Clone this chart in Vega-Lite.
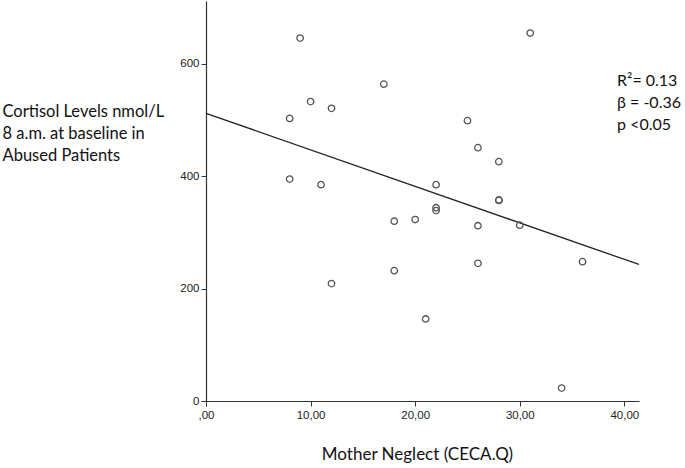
{
  "$schema": "https://vega.github.io/schema/vega-lite/v6.json",
  "autosize": "none",
  "width": 433,
  "height": 400,
  "padding": {"left": 206, "top": 1, "right": 46, "bottom": 67},
  "background": "white",
  "config": {"view": {"stroke": null}},
  "datasets": {
    "points": [
      {"neglect": 9, "cortisol": 646},
      {"neglect": 17, "cortisol": 564},
      {"neglect": 10, "cortisol": 533},
      {"neglect": 12, "cortisol": 521},
      {"neglect": 8, "cortisol": 503},
      {"neglect": 8, "cortisol": 395},
      {"neglect": 11, "cortisol": 385},
      {"neglect": 31, "cortisol": 655},
      {"neglect": 25, "cortisol": 499},
      {"neglect": 26, "cortisol": 451},
      {"neglect": 28, "cortisol": 426},
      {"neglect": 22, "cortisol": 385},
      {"neglect": 28, "cortisol": 358},
      {"neglect": 28, "cortisol": 357},
      {"neglect": 22, "cortisol": 344},
      {"neglect": 22, "cortisol": 339},
      {"neglect": 18, "cortisol": 320},
      {"neglect": 20, "cortisol": 323},
      {"neglect": 26, "cortisol": 312},
      {"neglect": 30, "cortisol": 313},
      {"neglect": 18, "cortisol": 232},
      {"neglect": 26, "cortisol": 245},
      {"neglect": 36, "cortisol": 248},
      {"neglect": 21, "cortisol": 146},
      {"neglect": 34, "cortisol": 23},
      {"neglect": 12, "cortisol": 209}
    ],
    "fit": [
      {"neglect": 0, "cortisol": 512},
      {"neglect": 41.4, "cortisol": 243}
    ],
    "note": [
      {"neglect": 39.3, "cortisol": 561, "label": ["R²= 0.13", "β = -0.36", "p <0.05"]}
    ]
  },
  "layer": [
    {
      "data": {"name": "fit"},
      "mark": {"type": "line", "color": "#222", "strokeWidth": 1.3},
      "encoding": {
        "x": {
          "field": "neglect", "type": "quantitative",
          "scale": {"domain": [0, 41.4], "nice": false, "zero": false},
          "axis": {
            "values": [0, 10, 20, 30, 40],
            "labelExpr": "datum.value == 0 ? ',00' : datum.value + ',00'",
            "grid": false,
            "domainColor": "#333", "domainWidth": 1.2,
            "tickColor": "#333", "tickSize": 5,
            "labelFont": "Liberation Sans", "labelFontSize": 11.5, "labelColor": "#222",
            "labelPadding": 3, "labelFlush": false,
            "title": "Mother Neglect (CECA.Q)",
            "titleFont": "Lato", "titleFontSize": 17, "titleFontWeight": "normal", "titleColor": "#111",
            "titleBaseline": "alphabetic", "titleY": 58, "titleX": 211
          }
        },
        "y": {
          "field": "cortisol", "type": "quantitative",
          "scale": {"domain": [0, 712], "nice": false},
          "axis": {
            "values": [0, 200, 400, 600],
            "grid": false,
            "domainColor": "#333", "domainWidth": 1.2,
            "tickColor": "#333", "tickSize": 5,
            "labelFont": "Liberation Sans", "labelFontSize": 11.5, "labelColor": "#222",
            "labelPadding": 2,
            "title": ["Cortisol Levels nmol/L", "\u00a08 a.m. at baseline in", "\u00a0Abused Patients"],
            "titleFont": "Lato", "titleFontSize": 16.5, "titleFontWeight": "normal", "titleColor": "#111",
            "titleAngle": 0, "titleAlign": "left", "titleBaseline": "alphabetic",
            "titleLineHeight": 22, "titleX": -204, "titleY": 115
          }
        }
      }
    },
    {
      "data": {"name": "points"},
      "mark": {"type": "point", "shape": "circle", "filled": false, "size": 42, "stroke": "#555", "strokeWidth": 1.3, "opacity": 1},
      "encoding": {
        "x": {"field": "neglect", "type": "quantitative"},
        "y": {"field": "cortisol", "type": "quantitative"}
      }
    },
    {
      "data": {"name": "note"},
      "mark": {"type": "text", "align": "left", "baseline": "alphabetic", "font": "Lato", "fontSize": 16, "color": "#111", "lineHeight": 22, "clip": false},
      "encoding": {
        "x": {"field": "neglect", "type": "quantitative"},
        "y": {"field": "cortisol", "type": "quantitative"},
        "text": {"field": "label"}
      }
    }
  ]
}
